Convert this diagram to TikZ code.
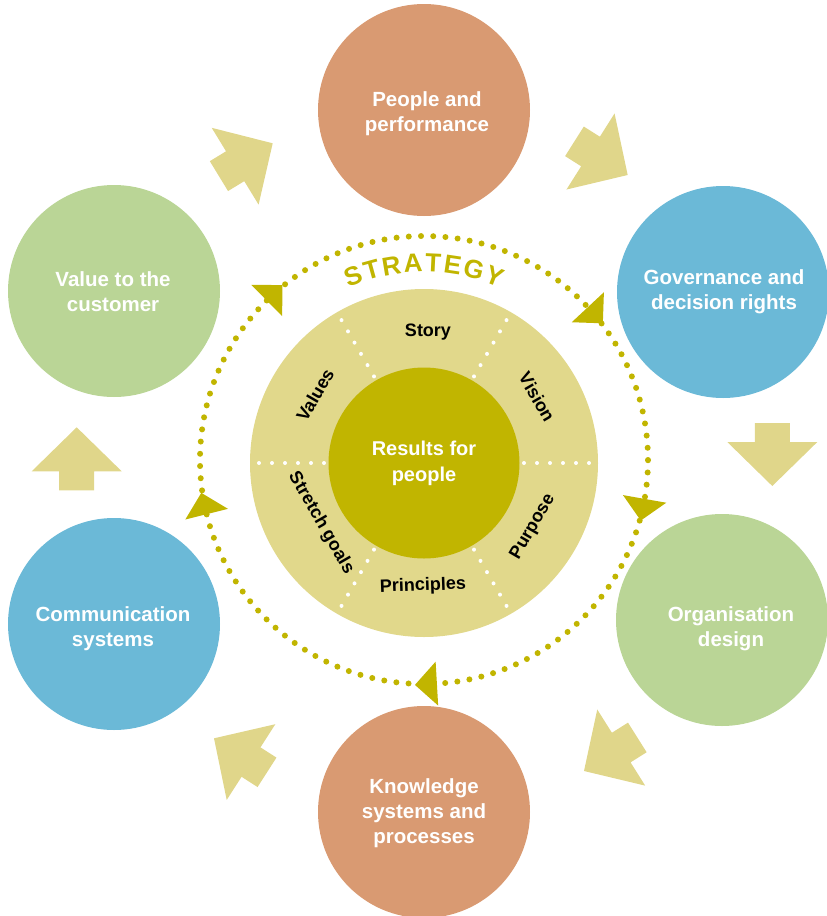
\documentclass[tikz,border=0pt]{standalone}
\usepackage{fontspec}
\setmainfont{Liberation Sans}
\definecolor{corange}{HTML}{D99A72}
\definecolor{cblue}{HTML}{6BB9D7}
\definecolor{cgreen}{HTML}{BAD596}
\definecolor{ckhaki}{HTML}{E0D68A}
\definecolor{cring}{HTML}{E1D88B}
\definecolor{colive}{HTML}{C1B500}
\tikzset{
  outer/.style={circle, minimum size=212pt, inner sep=0pt},
  outertext/.style={inner sep=0pt, text=white,
    font=\bfseries\fontsize{20.5}{25}\selectfont, align=center},
  blockarrow/.style={fill=ckhaki},
  ringlabel/.style={inner sep=0pt, text=black, font=\bfseries\fontsize{18}{18}\selectfont},
}
\begin{document}
\begin{tikzpicture}[x=1pt,y=1pt]
\useasboundingbox (0,0) rectangle (827,-916);
% outer circles
\node[outer, fill=corange] (people) at (424,-110) {};
\node[outer, fill=cblue] (gov) at (723,-292) {};
\node[outer, fill=cgreen] (org) at (722,-620) {};
\node[outer, fill=corange] (know) at (424,-812) {};
\node[outer, fill=cblue] (comm) at (114,-624) {};
\node[outer, fill=cgreen] (value) at (114,-291) {};
\node[outertext] (peoplet) at (427,-114) {People and\\performance};
\node[outertext] (govt) at (724,-292) {Governance and\\decision rights};
\node[outertext] (orgt) at (731,-629) {Organisation\\design};
\node[outertext] (knowt) at (424,-813.5) {Knowledge\\systems and\\processes};
\node[outertext] (commt) at (113,-629) {Communication\\systems};
\node[outertext] (valuet) at (113,-292) {Value to the\\customer};
% block arrows (tip, direction)
\foreach \tx/\ty/\ang in {272.7/-143.3/31.4, 627.7/-175/-32.3, 772.3/-486/-90, 584/-771/-147.8, 214/-738.3/147.3, 76.7/-427.3/90}{
  \fill[blockarrow, shift={(\tx,\ty)}, rotate=\ang] (0,0) -- (-44,45) -- (-44,17.5) -- (-63,17.5) -- (-63,-17.5) -- (-44,-17.5) -- (-44,-45) -- cycle;
}
% ring
\coordinate (c) at (424,-463);
\coordinate (dc) at (424,-460);
\node[circle, fill=cring, minimum size=348pt, inner sep=0pt] (ring) at (c) {};
\foreach \a in {0,60,...,300}{
  \draw[white, line width=4pt, line cap=round, dash pattern=on 0pt off 13pt] ([shift={(\a:100)}]c) -- ([shift={(\a:173)}]c);
}
\node[circle, fill=colive, minimum size=191pt, inner sep=0pt, text=white,
  font=\bfseries\fontsize{20}{26}\selectfont, align=center] (results) at (c) {Results for\\people};
% ring labels
\node[ringlabel] (story) at (428,-332) {Story};
\node[ringlabel, rotate=-60] (vision) at (537,-397) {Vision};
\node[ringlabel, rotate=60] (purpose) at (533,-527) {Purpose};
\node[ringlabel, rotate=2] (principles) at (423,-586) {Principles};
\node[ringlabel, rotate=-60] (stretch) at (321,-523) {Stretch goals};
\node[ringlabel, rotate=60] (values) at (315,-395) {Values};
% dotted strategy circle
\draw[colive, line width=6pt, line cap=round, dash pattern=on 0pt off 12.238pt] (dc) circle[radius=224];
\foreach \a in {134.6,43,-10,-86.7,194}{
  \fill[colive, shift={(dc)}, rotate=\a] (202,0) -- (246,0) -- (224,-22) -- cycle;
}
% STRATEGY
\foreach \l/\a [count=\i] in {S/111.07, T/105.40, R/99.51, A/93.18, T/87.28, E/81.61, G/75.28, Y/68.94}{
  \node[anchor=base, rotate=\a-90, text=colive, inner sep=0pt,
    font=\bfseries\fontsize{26}{26}\selectfont] (st\i) at ([shift={(\a:188)}]dc) {\l};
}
\end{tikzpicture}
\end{document}
